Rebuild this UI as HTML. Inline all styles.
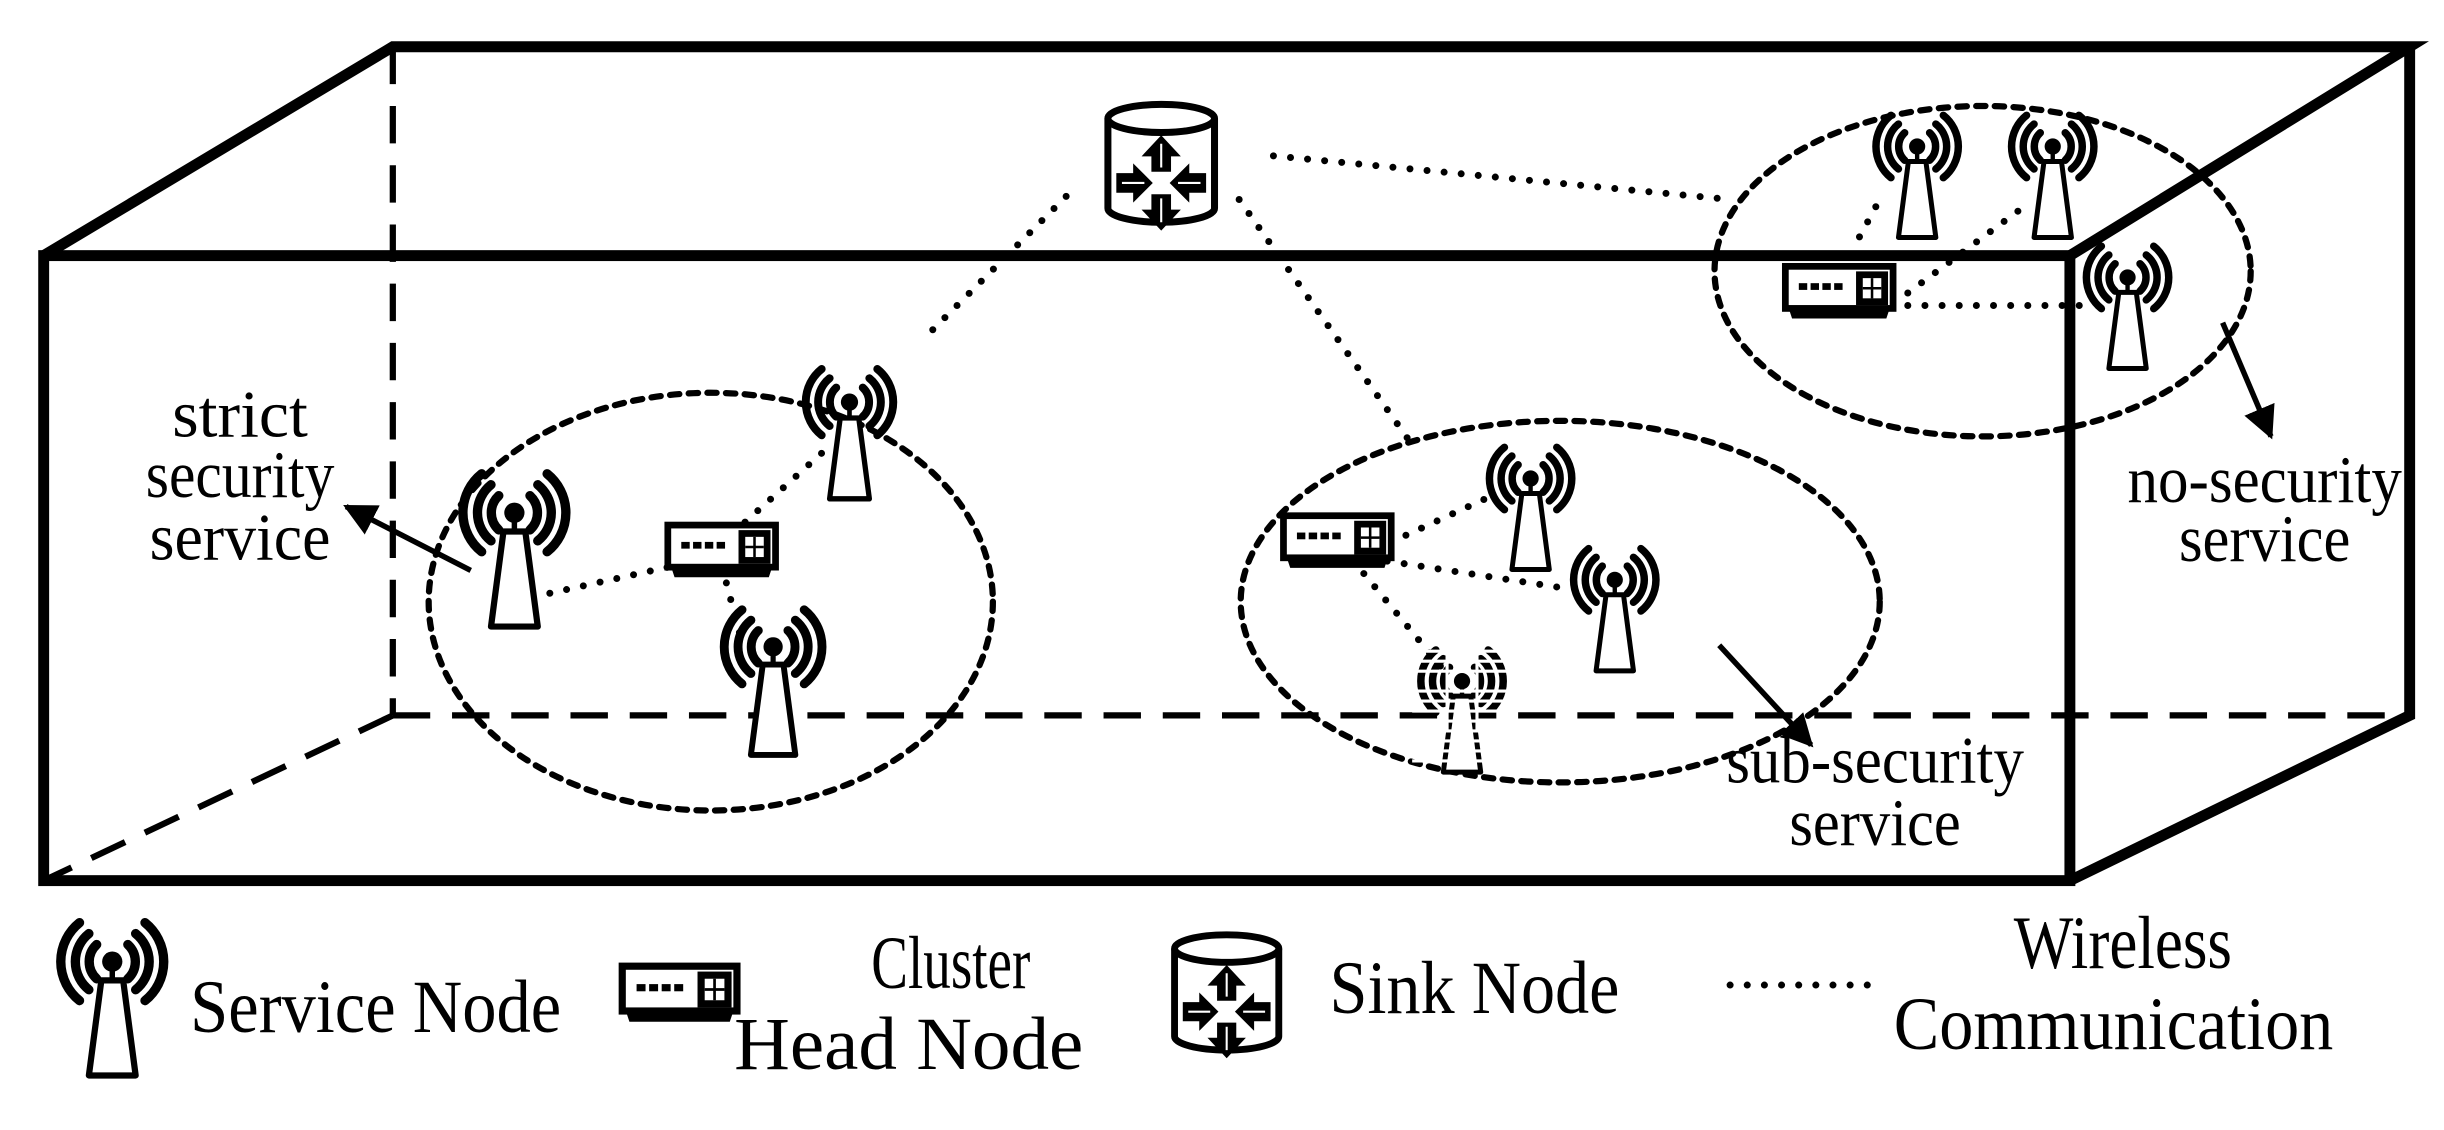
<!DOCTYPE html>
<html><head><meta charset="utf-8"><style>
html,body{margin:0;padding:0;background:#fff;}
svg{display:block;}
text{font-family:"Liberation Serif",serif;fill:#000;}
</style></head><body>
<svg width="2444" height="1130" viewBox="0 0 1568 725" xmlns="http://www.w3.org/2000/svg">
<defs>
<g id="tw">
  <g fill="none" stroke="#000" stroke-width="6" stroke-linecap="round">
    <path d="M-10,-11 A15,15 0 0 0 -10,11"/>
    <path d="M10,-11 A15,15 0 0 1 10,11"/>
    <path d="M-15,-18 A23,23 0 0 0 -15,18"/>
    <path d="M15,-18 A23,23 0 0 1 15,18"/>
    <path d="M-21,-25 A32,32 0 0 0 -21,25"/>
    <path d="M21,-25 A32,32 0 0 1 21,25"/>
  </g>
  <circle cx="0" cy="0" r="6.5" fill="#000"/>
  <line x1="0" y1="0" x2="0" y2="12" stroke="#000" stroke-width="3.5"/>
  <polygon points="-7,12 7,12 15,73 -15,73" fill="#fff" stroke="#000" stroke-width="4" stroke-linejoin="round"/>
</g>
<g id="rt">
  <rect x="-32" y="-14" width="64" height="25" fill="#fff" stroke="#000" stroke-width="4"/>
  <path d="M-30,11 L30,11 L28,17 L-28,17 Z" fill="#000"/>
  <g fill="#000">
    <rect x="-24" y="-4" width="5" height="4"/><rect x="-17" y="-4" width="5" height="4"/>
    <rect x="-10" y="-4" width="5" height="4"/><rect x="-3" y="-4" width="5" height="4"/>
    <rect x="10" y="-11" width="19" height="20"/>
  </g>
  <rect x="14" y="-7" width="11" height="12" fill="#fff"/>
  <path d="M19.5,-7 V5 M14,-1 H25" stroke="#000" stroke-width="1.5"/>
</g>
<g id="sk">
  <path d="M-38,-30 V34 A38,10 0 0 0 38,34 V-30" fill="#fff" stroke="#000" stroke-width="5"/>
  <ellipse cx="0" cy="-30" rx="38" ry="10" fill="#fff" stroke="#000" stroke-width="5"/>
  <g fill="#000">
    <path d="M0,-18 L14,-3 L7,-3 L7,8 L-7,8 L-7,-3 L-14,-3 Z"/>
    <path d="M0,50 L14,35 L7,35 L7,24 L-7,24 L-7,35 L-14,35 Z"/>
    <path d="M-6,16 L-20,2 L-20,9 L-32,9 L-32,23 L-20,23 L-20,30 Z"/>
    <path d="M6,16 L20,2 L20,9 L32,9 L32,23 L20,23 L20,30 Z"/>
  </g>
  <g stroke="#fff" stroke-width="1.5" fill="none">
    <path d="M0,-12 V5 M0,27 V44 M-28,16 H-12 M28,16 H12"/>
  </g>
</g>
<marker id="ah" viewBox="0 0 10 10" refX="9" refY="5" markerWidth="6" markerHeight="6" orient="auto" markerUnits="strokeWidth">
  <path d="M0,0 L10,5 L0,10 Z" fill="#000"/>
</marker>
</defs>

<g stroke="#000" stroke-width="4" fill="none" stroke-dasharray="24,14">
  <line x1="252" y1="30" x2="252" y2="459"/>
  <line x1="252" y1="459" x2="1546" y2="459"/>
  <line x1="252" y1="459" x2="28" y2="565"/>
</g>
<g stroke="#000" stroke-width="7" fill="none" stroke-linejoin="miter">
  <rect x="28" y="164" width="1300" height="401"/>
  <polyline points="28,164 252,30 1546,30 1328,164"/>
  <polyline points="1546,30 1546,459 1328,565"/>
</g>

<g fill="none" stroke="#000" stroke-width="4" stroke-dasharray="6,6" stroke-linecap="round">
  <ellipse cx="456" cy="386" rx="181" ry="134"/>
  <ellipse cx="1001" cy="386" rx="205" ry="116"/>
  <ellipse cx="1272" cy="174" rx="172" ry="106"/>
</g>

<g fill="none" stroke="#000" stroke-width="4.5" stroke-dasharray="0,11" stroke-linecap="round">
  <line x1="684" y1="126" x2="597" y2="213"/>
  <line x1="795" y1="128" x2="905" y2="284"/>
  <line x1="817" y1="100" x2="1110" y2="128"/>
  <line x1="342" y1="383" x2="428" y2="364"/>
  <line x1="478" y1="335" x2="528" y2="290"/>
  <line x1="466" y1="374" x2="476" y2="412"/>
  <line x1="892" y1="348" x2="953" y2="320"/>
  <line x1="890" y1="360" x2="1008" y2="378"/>
  <line x1="875" y1="368" x2="928" y2="432"/>
  <line x1="1224" y1="188" x2="1298" y2="133"/>
  <line x1="1193" y1="152" x2="1206" y2="128"/>
  <line x1="1224" y1="196" x2="1345" y2="196"/>
  <line x1="1110" y1="632" x2="1200" y2="632"/>
</g>

<use href="#tw" transform="translate(330,329)"/>
<use href="#tw" transform="translate(545,258) scale(0.85)"/>
<use href="#tw" transform="translate(496,415) scale(0.95)"/>
<use href="#tw" transform="translate(982,307) scale(0.8)"/>
<use href="#tw" transform="translate(1036,372) scale(0.8)"/>
<use href="#tw" transform="translate(1230,94) scale(0.8)"/>
<use href="#tw" transform="translate(1317,94) scale(0.8)"/>
<use href="#tw" transform="translate(1365,178) scale(0.8)"/>
<use href="#tw" transform="translate(72,617)"/>
<g transform="translate(938,437) scale(0.8)">
  <use href="#tw"/>
  <g stroke="#fff" stroke-width="2.5">
    <line x1="-40" y1="-24" x2="40" y2="-24"/><line x1="-40" y1="-16" x2="40" y2="-16"/>
    <line x1="-40" y1="-8" x2="40" y2="-8"/><line x1="-40" y1="8" x2="40" y2="8"/>
    <line x1="-40" y1="16" x2="40" y2="16"/><line x1="-40" y1="24" x2="40" y2="24"/>
    <line x1="-40" y1="32" x2="40" y2="32"/><line x1="-40" y1="40" x2="40" y2="40"/>
    <line x1="-40" y1="48" x2="40" y2="48"/><line x1="-40" y1="56" x2="40" y2="56"/>
    <line x1="-40" y1="64" x2="40" y2="64"/>
    <line x1="-12" y1="-40" x2="-12" y2="40"/><line x1="12" y1="-40" x2="12" y2="40"/>
  </g>
</g>

<use href="#rt" transform="translate(463,352) scale(1.08)"/>
<use href="#rt" transform="translate(858,346) scale(1.08)"/>
<use href="#rt" transform="translate(1180,186) scale(1.08)"/>
<use href="#rt" transform="translate(436,636) scale(1.15)"/>
<use href="#sk" transform="translate(745,103) scale(0.9)"/>
<use href="#sk" transform="translate(787,635) scale(0.88)"/>

<g stroke="#000" stroke-width="3.5" fill="none">
  <line x1="302" y1="366" x2="222" y2="325" marker-end="url(#ah)"/>
  <line x1="1103" y1="414" x2="1162" y2="478" marker-end="url(#ah)"/>
  <line x1="1426" y1="207" x2="1457" y2="280" marker-end="url(#ah)"/>
</g>

<g font-size="43" text-anchor="middle">
  <text x="154" y="280" textLength="87" lengthAdjust="spacingAndGlyphs">strict</text>
  <text x="154" y="319" textLength="121" lengthAdjust="spacingAndGlyphs">security</text>
  <text x="154" y="359" textLength="116" lengthAdjust="spacingAndGlyphs">service</text>
  <text x="1203" y="502" textLength="191" lengthAdjust="spacingAndGlyphs">sub-security</text>
  <text x="1203" y="542" textLength="110" lengthAdjust="spacingAndGlyphs">service</text>
  <text x="1453" y="322" textLength="176" lengthAdjust="spacingAndGlyphs">no-security</text>
  <text x="1453" y="360" textLength="110" lengthAdjust="spacingAndGlyphs">service</text>
</g>
<g font-size="48">
  <text x="122" y="662" textLength="238" lengthAdjust="spacingAndGlyphs">Service Node</text>
  <text x="610" y="634" text-anchor="middle" textLength="102" lengthAdjust="spacingAndGlyphs">Cluster</text>
  <text x="583" y="686" text-anchor="middle" textLength="224" lengthAdjust="spacingAndGlyphs">Head Node</text>
  <text x="853" y="650" textLength="186" lengthAdjust="spacingAndGlyphs">Sink Node</text>
  <text x="1362" y="621" text-anchor="middle" textLength="140" lengthAdjust="spacingAndGlyphs">Wireless</text>
  <text x="1356" y="673" text-anchor="middle" textLength="282" lengthAdjust="spacingAndGlyphs">Communication</text>
</g>
</svg>
</body></html>
